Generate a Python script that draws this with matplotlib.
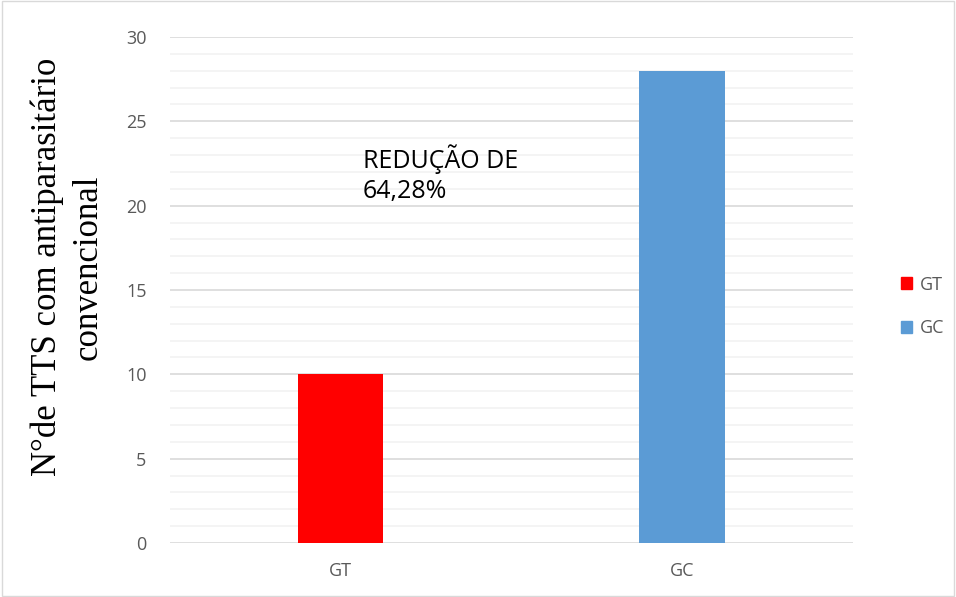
import matplotlib
matplotlib.use("Agg")
import matplotlib.pyplot as plt
import matplotlib.patches as mpatches
from matplotlib.ticker import MultipleLocator

groups = ["GT", "GC"]
values = [10, 28]
colors = ["#FF0000", "#5B9BD5"]
yticks = [0, 5, 10, 15, 20, 25, 30]
note = "REDUÇÃO DE\n64,28%"

plt.rcParams["font.family"] = ["Open Sans", "DejaVu Sans"]

fig = plt.figure(figsize=(9.56, 5.97), dpi=100)
ax = fig.add_axes([0.178, 0.0905, 0.714, 0.8475])

ax.bar(range(len(groups)), values, width=0.25, color=colors, zorder=3)

ax.set_xlim(-0.5, 1.5)
ax.set_ylim(0, 30)
ax.set_xticks(range(len(groups)))
ax.set_xticklabels(groups)
ax.set_yticks(yticks)
ax.yaxis.set_minor_locator(MultipleLocator(1))
ax.grid(axis="y", which="major", color="#D9D9D9", linewidth=1.2, zorder=0)
ax.grid(axis="y", which="minor", color="#F2F2F2", linewidth=1.2, zorder=0)
ax.tick_params(axis="both", which="both", length=0, labelsize=13, labelcolor="#595959")
ax.tick_params(axis="x", pad=14)
ax.tick_params(axis="y", pad=17)
for s in ax.spines.values():
    s.set_visible(False)

ax.set_ylabel("N°de TTS com antiparasitário\nconvencional", family="Liberation Serif",
              fontsize=25, linespacing=1.3)
ax.yaxis.set_label_coords(-0.096, 0.545)

# baseline of the last line
ax.text(0.065, 20.45, note, fontsize=18, color="black", va="baseline", ha="left",
        linespacing=1.25)

handles = [mpatches.Patch(color=c, label=g) for g, c in zip(groups, colors)]
leg = fig.legend(handles=handles, loc="center left", bbox_to_anchor=(0.925, 0.487),
                 frameon=False, fontsize=13, handlelength=0.65, handleheight=0.65,
                 handletextpad=0.4, labelspacing=1.4)
for t in leg.get_texts():
    t.set_color("#595959")

fig.patches.append(mpatches.Rectangle((0.002, 0.002), 0.996, 0.996, transform=fig.transFigure,
                                      fill=False, edgecolor="#D9D9D9", linewidth=1))

fig.savefig("out.png", dpi=100)
